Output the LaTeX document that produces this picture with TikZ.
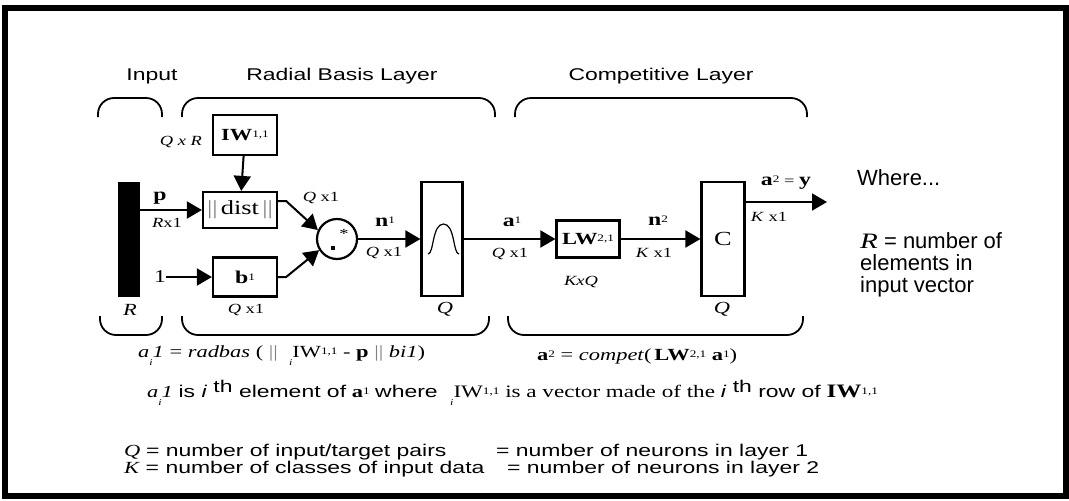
\documentclass[tikz,border=0pt]{standalone}
\usepackage{fontspec}
\setmainfont{Liberation Serif}[FakeStretch=1.32]
\newfontfamily\wsans{Liberation Sans}[FakeStretch=1.35]
\newfontfamily\nsans{Liberation Sans}
\usetikzlibrary{arrows.meta}
\newcommand\fs[1]{\fontsize{#1}{#1}\selectfont}
\newcommand\sm[1]{\raisebox{3pt}{\fs{10}#1}}
\newcommand\bars{{\color{gray}\textbar\textbar}}
\newcommand\subb[1]{\raisebox{-8pt}{\fs{9}\itshape #1}}
\newcommand\aione{\textit{a}\subb{i}\textit{1}}
\begin{document}
\begin{tikzpicture}[x=1pt,y=-1pt,
  box/.style={draw, line width=2.2pt, inner sep=0pt},
  arr/.style={line width=2pt, -{Triangle[length=15pt,width=17pt]}},
  brk/.style={line width=1.8pt, rounded corners=16pt},
  lbl/.style={inner sep=0pt},
  head/.style={lbl, font=\wsans\fs{17}},
  dim/.style={lbl, font=\fs{14}},
  bsym/.style={lbl, font=\bfseries\fs{18}},
  txt/.style={lbl, anchor=west, font=\fs{17}}]
\useasboundingbox (0,0) rectangle (1069,501);
\draw[line width=6pt] (5,8) rectangle (1066,496);

% headings
\node[head] (tin) at (152,76) {Input};
\node[head] (trb) at (342,76) {Radial Basis Layer};
\node[head] (tcl) at (661,76) {Competitive Layer};

% top brackets
\draw[brk] (98,117) -- (98,98) -- (162,98) -- (162,117);
\draw[brk] (182,117) -- (182,98) -- (495,98) -- (495,117);
\draw[brk] (515,117) -- (515,98) -- (807,98) -- (807,117);
% bottom brackets
\draw[brk] (100,316) -- (100,335) -- (162,335) -- (162,316);
\draw[brk] (182,316) -- (182,335) -- (489,335) -- (489,316);
\draw[brk] (508,316) -- (508,335) -- (803,335) -- (803,316);

% blocks
\node[fill=black, inner sep=0pt, minimum width=22pt, minimum height=115pt] (bar) at (129,239.5) {};
\node[box, minimum width=74pt, minimum height=36pt, font=\fs{20}] (dist) at (240,210) {\bars\,dist\,\bars};
\node[box, minimum width=64pt, minimum height=40pt] (iw) at (245,135) {{\bfseries\fs{17}IW}\sm{1,1}};
\node[box, minimum width=64pt, minimum height=39pt] (bb) at (245,277) {{\bfseries\fs{18}b}\sm{1}};
\node[box, circle, minimum size=40pt] (circ) at (337,239) {};
\node[box, minimum width=41pt, minimum height=114pt] (rb) at (442,239) {};
\node[box, minimum width=63pt, minimum height=37pt] (lw) at (588,239) {{\bfseries\fs{17}LW}\sm{2,1}};
\node[box, minimum width=43pt, minimum height=114pt, font=\fs{20}] (cb) at (723,239) {C};
\node[lbl, font=\fs{18}] (one) at (160,277) {1};
\coordinate (out) at (827,202);

% circle symbol
\fill (331,246) rectangle (335,250);
\node[lbl, font=\fs{14}] (star) at (344,234) {*};
% bell curve
\draw[line width=1.2pt] (428,254) .. controls (434,254) and (432,224) .. (443.5,224)
  .. controls (455,224) and (453,254) .. (459,254);

% connectors
\draw[arr] (bar.east |- dist.west) -- (dist.west);
\draw[arr] (iw) -- (dist);
\draw[arr] (one) -- (bb.west);
\draw[arr] ([yshift=9pt]dist.east) -- ++(8,0) -- (circ.155);
\draw[arr] (bb.east) -- ++(8,0) -- (circ.212);
\draw[arr] (circ) -- (rb);
\draw[arr] (rb) -- (lw);
\draw[arr] (lw) -- (cb);
\draw[arr] (cb.east |- out) -- (out);

% labels
\node[lbl, font=\itshape\fs{17}] (lR) at (130,310) {R};
\node[dim] (lbq) at (246,310) {\textit{Q} x1};
\node[lbl, font=\itshape\fs{17}] (lq1) at (445,309) {Q};
\node[lbl, font=\itshape\fs{17}] (lq2) at (722,309) {Q};
\node[bsym] (lp) at (160,198) {p};
\node[dim] (lrx) at (167,223) {\textit{R}x1};
\node[dim] (lqr) at (181,142) {\textit{Q x R}};
\node[dim] (lcq) at (321,198) {\textit{Q} x1};
\node[bsym] (ln1) at (385,222) {n\sm{\normalfont 1}};
\node[dim] (ln1d) at (384,253) {\textit{Q} x1};
\node[bsym] (la1) at (512,222) {a\sm{\normalfont 1}};
\node[dim] (la1d) at (510,254) {\textit{Q} x1};
\node[dim] (lkq) at (581,282) {\textit{KxQ}};
\node[bsym] (ln2) at (658,221) {n\sm{\normalfont 2}};
\node[dim] (ln2d) at (654,253) {\textit{K} x1};
\node[bsym] (la2) at (786,183) {a\sm{\normalfont 2}{\normalfont\fs{14} = }y};
\node[dim] (la2d) at (769,217) {\textit{K} x1};

% right notes
\node[lbl, anchor=west, font=\nsans\fs{22}] (where) at (857,178) {Where...};
\node[lbl, anchor=north west, align=left, font=\nsans\fs{22}] (rdef) at (860,232)
  {{\rmfamily\itshape R} = number of\\elements in\\input vector};

% equations
\node[txt] (eq1) at (138,356) {\aione{} = \textit{radbas} ( \bars\ \ \subb{i}IW\sm{1,1} - \textbf{p} \bars\ \textit{bi1})};
\node[txt] (eq2) at (537,356) {\textbf{a}\sm{2} = \textit{compet}(\,\textbf{LW}\sm{2,1} \textbf{a}\sm{1})};
\node[txt] (defa) at (147,393) {\aione{} {\wsans is \textit{i} \raisebox{5pt}{th} element of} \textbf{a}\sm{1} {\wsans where}};
\node[txt, font=\fs{17.5}] (defb) at (450,393) {\subb{i}IW\sm{1,1} is a vector made of the {\wsans\fs{17}\textit{i} \raisebox{5pt}{th} row of} {\bfseries\fs{19}IW}\sm{1,1}};

% bottom definitions
\node[txt] (q1) at (124,452) {\textit{Q} {\wsans = number of input/target pairs}};
\node[txt] (q2) at (496,452) {\wsans = number of neurons in layer 1};
\node[txt] (k1) at (124,469) {\textit{K} {\wsans = number of classes of input data}};
\node[txt] (k2) at (507,469) {\wsans = number of neurons in layer 2};
\end{tikzpicture}
\end{document}
